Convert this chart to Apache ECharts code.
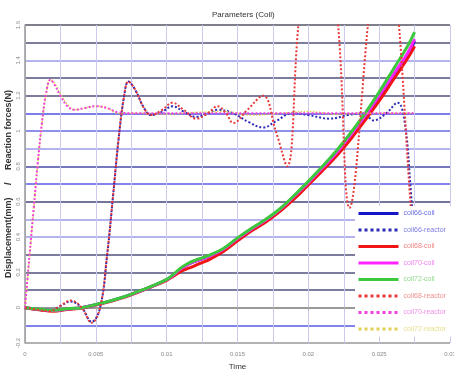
<!DOCTYPE html>
<html>
<head>
<meta charset="utf-8">
<script src="https://cdn.jsdelivr.net/npm/echarts@6/dist/echarts.min.js"></script>
<style>
html, body { margin: 0; padding: 0; background: #fff; }
#main { width: 454px; height: 374px; }
</style>
</head>
<body>
<div id="main"></div>
<script>
// legend names
var names = ['coil66-coil', 'coil66-reactor', 'coil68-coil', 'coil70-coil', 'coil72-coil', 'coil68-reactor', 'coil70-reactor', 'coil72-reactor'];

// x tick labels
var xTicks = [0, 0.005, 0.01, 0.015, 0.02, 0.025, 0.03];

// displacement (solid lines)
var coilTime = [0, 0.001, 0.002, 0.003, 0.004, 0.005, 0.006, 0.007, 0.008, 0.009, 0.01, 0.0105, 0.011, 0.0115, 0.012, 0.0125, 0.013, 0.014, 0.015, 0.016, 0.017, 0.018, 0.019, 0.02, 0.021, 0.022, 0.023, 0.024, 0.025, 0.026, 0.027, 0.0275];
var coil66 = [0, -0.01, -0.016, -0.007, 0, 0.017, 0.037, 0.061, 0.09, 0.122, 0.158, 0.186, 0.22, 0.245, 0.262, 0.276, 0.29, 0.33, 0.39, 0.445, 0.495, 0.555, 0.63, 0.705, 0.79, 0.875, 0.975, 1.08, 1.19, 1.31, 1.43, 1.51];
var coil68 = [0, -0.012, -0.02, -0.01, -0.002, 0.015, 0.035, 0.058, 0.088, 0.12, 0.155, 0.18, 0.205, 0.222, 0.238, 0.255, 0.272, 0.318, 0.378, 0.435, 0.485, 0.545, 0.615, 0.695, 0.775, 0.86, 0.955, 1.06, 1.17, 1.29, 1.41, 1.48];
var coil70 = [0, -0.009, -0.016, -0.007, 0, 0.017, 0.037, 0.061, 0.09, 0.122, 0.158, 0.186, 0.22, 0.245, 0.262, 0.277, 0.291, 0.331, 0.391, 0.446, 0.496, 0.556, 0.631, 0.708, 0.792, 0.878, 0.978, 1.085, 1.2, 1.32, 1.44, 1.52];
var coil72 = [0, -0.008, -0.015, -0.006, 0, 0.018, 0.038, 0.062, 0.092, 0.124, 0.16, 0.19, 0.225, 0.25, 0.268, 0.282, 0.296, 0.335, 0.395, 0.45, 0.5, 0.56, 0.635, 0.715, 0.8, 0.89, 0.99, 1.1, 1.22, 1.35, 1.48, 1.56];

// reaction forces (dotted lines)
var reactTimeA = [0, 0.0008, 0.0017, 0.0025, 0.0032, 0.004, 0.0047, 0.0053, 0.0058, 0.0062, 0.0066, 0.007, 0.0073, 0.0078, 0.0084, 0.0089, 0.0097, 0.0104, 0.0112, 0.0121, 0.0129, 0.0136, 0.0142, 0.0147, 0.0157, 0.0168, 0.0177, 0.0185, 0.0193, 0.0207, 0.0221, 0.0229, 0.0242, 0.0253, 0.0264, 0.0272, 0.0275];
var react68 = [0, -0.01, -0.02, 0.01, 0.04, 0, -0.085, 0, 0.3, 0.62, 0.95, 1.2, 1.28, 1.23, 1.13, 1.09, 1.12, 1.16, 1.12, 1.07, 1.1, 1.14, 1.1, 1.045, 1.12, 1.2, 1.0, 0.8, 1.6, 2.6, 1.6, 0.565, 1.6, 2.6, 1.6, 0.6, 0.35];
var reactTimeB = [0, 0.0008, 0.0017, 0.0025, 0.0032, 0.004, 0.0047, 0.0053, 0.0058, 0.0062, 0.0066, 0.007, 0.0073, 0.0078, 0.0084, 0.0089, 0.0097, 0.0104, 0.0112, 0.0121, 0.0129, 0.0136, 0.0147, 0.0158, 0.0168, 0.0178, 0.0188, 0.02, 0.0215, 0.0228, 0.0239, 0.0246, 0.0255, 0.0263, 0.0268, 0.0272, 0.0275];
var react66 = [0, -0.01, -0.018, 0.01, 0.035, 0, -0.08, 0, 0.3, 0.62, 0.95, 1.2, 1.28, 1.23, 1.13, 1.09, 1.11, 1.14, 1.11, 1.08, 1.1, 1.12, 1.1, 1.05, 1.02, 1.06, 1.1, 1.09, 1.07, 1.09, 1.1, 1.06, 1.1, 1.16, 1.05, 0.7, 0.35];
var reactTimeC = [0, 0.0003, 0.0006, 0.0009, 0.0012, 0.0015, 0.0018, 0.0021, 0.0025, 0.003, 0.0035, 0.0042, 0.005, 0.0058, 0.0066, 0.008, 0.01, 0.012, 0.014, 0.016, 0.018, 0.02, 0.022, 0.024, 0.026, 0.0275];
var react70 = [0, 0.28, 0.55, 0.82, 1.05, 1.22, 1.29, 1.26, 1.2, 1.14, 1.12, 1.13, 1.14, 1.13, 1.105, 1.1, 1.1, 1.1, 1.1, 1.1, 1.1, 1.1, 1.1, 1.1, 1.1, 1.1];
var react72 = [0, 0.27, 0.54, 0.81, 1.04, 1.21, 1.29, 1.27, 1.21, 1.15, 1.12, 1.13, 1.14, 1.13, 1.1, 1.1, 1.095, 1.105, 1.11, 1.09, 1.1, 1.11, 1.095, 1.1, 1.1, 1.1];

var pairs = function (t, v) {
  return t.map(function (x, i) { return [x, v[i]]; });
};

// 折线
var line = function (name, t, v, color, type, width, z) {
  return {
    name: name,
    type: 'line',
    z: z || 2,
    data: pairs(t, v),
    smooth: 0.4,
    symbol: 'none',
    clip: true,
    lineStyle: { color: color, type: type, width: width },
    itemStyle: { color: color }
  };
};

var textColors = ['#6a6ae8', '#7c7ce0', '#f08080', '#f080f0', '#90d890', '#f09090', '#f090e8', '#e8e090'];

// gridline colours from bottom to top
var gridColors = ['#999999', '#5a5ae6', '#5a5ae6', '#50507c', '#50507c', '#50507c', '#9a9ae8', '#9a9ae8', '#44447a',
  '#5a5ae6', '#4a4aa8', '#9a9ae8', '#6a6ae6', '#5050e6', '#50507c', '#50507c', '#9a9ae8', '#50507c', '#555566'];

var myChart = echarts.init(document.getElementById('main'));
myChart.setOption({
  animation: false,
  textStyle: { fontFamily: 'Liberation Sans, Arial, sans-serif' },
  title: {
    text: 'Parameters (Coil)',
    left: 207,
    top: 6,
    textStyle: { fontSize: 8, fontWeight: 'normal', color: '#333' }
  },
  grid: { left: 25, right: 4, top: 25, bottom: 31, outerBoundsMode: 'none' },
  legend: {
    orient: 'vertical',
    left: 355,
    top: 206,
    z: 10,
    itemWidth: 40,
    itemHeight: 8,
    itemGap: 9.5,
    padding: [4, 6, 4, 2],
    backgroundColor: '#fff',
    lineStyle: { width: 3 },
    itemStyle: { opacity: 0 },
    textStyle: { fontSize: 7 },
    data: names.map(function (n, i) {
      return { name: n, textStyle: { color: textColors[i] } };
    })
  },
  xAxis: {
    type: 'value',
    min: 0,
    max: 0.03,
    interval: 0.005,
    name: 'Time',
    nameLocation: 'middle',
    nameGap: 20,
    nameMoveOverlap: false,
    nameTextStyle: { fontSize: 8, color: '#333' },
    axisLine: { lineStyle: { color: '#999', width: 2 } },
    axisTick: { length: 3, lineStyle: { color: '#aaa' } },
    minorTick: { show: true, splitNumber: 2, length: 2, lineStyle: { color: '#bbb' } },
    axisLabel: {
      fontSize: 6, color: '#888', margin: 8,
      formatter: function (v) {
        var i = xTicks.indexOf(Math.round(v * 1000) / 1000);
        return i >= 0 ? String(xTicks[i]) : '';
      }
    },
    splitLine: { show: true, lineStyle: { color: '#cacaee', width: 1 } },
    minorSplitLine: { show: true, lineStyle: { color: '#cacaee', width: 1 } }
  },
  yAxis: {
    type: 'value',
    min: -0.2,
    max: 1.6,
    interval: 0.1,
    name: 'Displacement(mm)     /     Reaction forces(N)',
    nameLocation: 'middle',
    nameGap: 12,
    nameRotate: 90,
    nameMoveOverlap: false,
    nameTextStyle: { fontSize: 9, fontWeight: 'bold', color: '#333' },
    axisLine: { show: true, lineStyle: { color: '#999', width: 1.5 } },
    axisTick: { show: false },
    axisLabel: {
      fontSize: 6, color: '#888', rotate: 90, margin: 4,
      formatter: function (v) {
        var k = Math.round(v * 10);
        if (k % 2 !== 0) return '';
        return String(Math.round(v * 10) / 10);
      }
    },
    splitLine: { show: true, lineStyle: { color: gridColors, width: 1.5 } }
  },
  series: [
    line(names[0], coilTime, coil66, '#1414c8', 'solid', 3),
    line(names[1], reactTimeB, react66, '#2a2ab8', 'dotted', 2),
    line(names[2], coilTime, coil68, '#f01414', 'solid', 3),
    line(names[3], coilTime, coil70, '#ff24ff', 'solid', 3),
    line(names[4], coilTime, coil72, '#3cc83c', 'solid', 3),
    line(names[5], reactTimeA, react68, '#e83838', 'dotted', 2, 4),
    line(names[6], reactTimeC, react70, '#f040e0', 'dotted', 2, 3),
    line(names[7], reactTimeC, react72, '#e0d050', 'dotted', 1.5)
  ]
});
</script>
</body>
</html>
